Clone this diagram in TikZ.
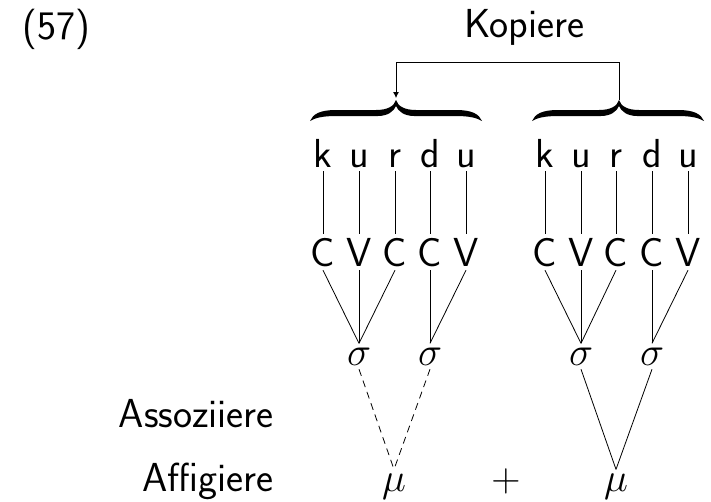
\documentclass[tikz,border=0pt]{standalone}
\usepackage{fix-cm}
\usetikzlibrary{arrows.meta}
\tikzset{
  seg/.style={anchor=base, inner sep=4pt, text depth=0pt},
  lbl/.style={inner sep=0pt},
  link/.style={line width=0.8pt},
  dlink/.style={line width=0.8pt, dash pattern=on 7pt off 5pt},
  bracefill/.style={fill=black, draw=none}
}
\newcommand{\mybrace}[3]{% left x, tip x, right x
  \path[bracefill] (#1,121)
    .. controls (#1+3,114) and (#1+10,110) .. (#1+26,110)
    -- (#2-20,110)
    .. controls (#2-8,110) and (#2-2,106) .. (#2,100)
    .. controls (#2+2,106) and (#2+8,110) .. (#2+20,110)
    -- (#3-26,110)
    .. controls (#3-10,110) and (#3-3,114) .. (#3,121)
    .. controls (#3-5,118) and (#3-12,116) .. (#3-26,116)
    -- (#2+18,116)
    .. controls (#2+8,116) and (#2+2,111) .. (#2,106)
    .. controls (#2-2,111) and (#2-8,116) .. (#2-18,116)
    -- (#1+26,116)
    .. controls (#1+12,116) and (#1+5,118) .. (#1,121) -- cycle;
}
\begin{document}
\begin{tikzpicture}[x=1pt,y=-1pt,font=\sffamily\fontsize{40.5}{48}\selectfont]
\useasboundingbox (0,0) rectangle (711,501);

% labels
\node[lbl, anchor=base west] (num) at (22,39) {(57)};
\node[lbl, anchor=base] (kop) at (524,37) {Kopiere};
\node[lbl, anchor=base east] (ass) at (274,427) {Assoziiere};
\node[lbl, anchor=base east] (aff) at (274,491) {Affigiere};

% braces
\mybrace{310}{396}{482}
\mybrace{532}{619}{704}
\coordinate (ltip) at (396,100);
\coordinate (rtip) at (619,100);
\draw[link, -{Latex[length=6pt,width=6pt]}, shorten >=2pt] (rtip) -- ++(0,-38) -| (ltip);

% segments, left copy
\node[seg] (a1) at (323,167) {k};
\node[seg] (a2) at (359,167) {u};
\node[seg] (a3) at (395,167) {r};
\node[seg] (a4) at (430,167) {d};
\node[seg] (a5) at (466,167) {u};
\node[seg] (A1) at (323,266) {C};
\node[seg] (A2) at (359,266) {V};
\node[seg] (A3) at (395,266) {C};
\node[seg] (A4) at (430,266) {C};
\node[seg] (A5) at (466,266) {V};
\node[seg] (s1) at (359,365) {$\sigma$};
\node[seg] (s2) at (430,365) {$\sigma$};
\node[seg] (m1) at (394,491) {$\mu$};

% segments, right copy
\node[seg] (b1) at (545,167) {k};
\node[seg] (b2) at (581,167) {u};
\node[seg] (b3) at (616,167) {r};
\node[seg] (b4) at (652,167) {d};
\node[seg] (b5) at (688,167) {u};
\node[seg] (B1) at (545,266) {C};
\node[seg] (B2) at (581,266) {V};
\node[seg] (B3) at (616,266) {C};
\node[seg] (B4) at (652,266) {C};
\node[seg] (B5) at (688,266) {V};
\node[seg] (s3) at (581,365) {$\sigma$};
\node[seg] (s4) at (652,365) {$\sigma$};
\node[seg] (m2) at (616,491) {$\mu$};

\node[seg] (plus) at (506,491) {$+$};

% links
\foreach \i in {1,...,5} {
  \draw[link] (a\i.south) -- (A\i.north);
  \draw[link] (b\i.south) -- (B\i.north);
}
\foreach \i in {1,2,3} {
  \draw[link] (A\i.south) -- (s1.north);
  \draw[link] (B\i.south) -- (s3.north);
}
\foreach \i in {4,5} {
  \draw[link] (A\i.south) -- (s2.north);
  \draw[link] (B\i.south) -- (s4.north);
}
\draw[dlink] (s1.south) -- (m1.north);
\draw[dlink] (s2.south) -- (m1.north);
\draw[link] (s3.south) -- (m2.north);
\draw[link] (s4.south) -- (m2.north);
\end{tikzpicture}
\end{document}
